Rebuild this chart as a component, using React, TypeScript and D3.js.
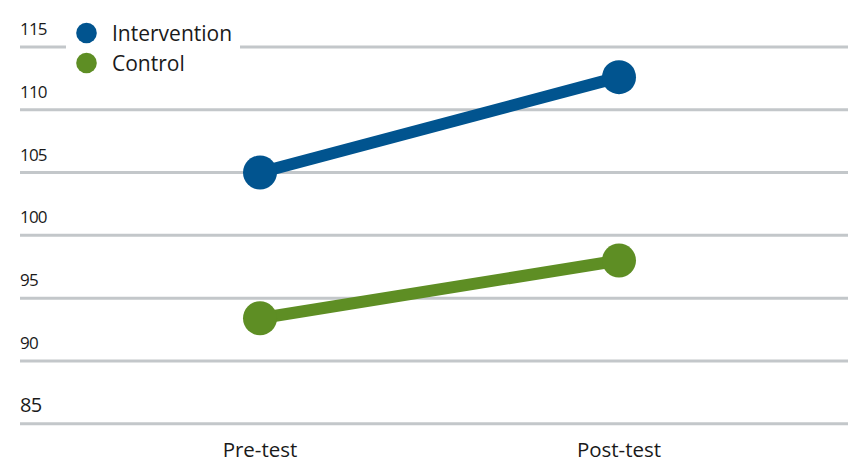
import React from "react";
import * as d3 from "d3";

const categories = ["Pre-test", "Post-test"];
const interventionValues = [105, 112.6];
const controlValues = [93.4, 98.0];
const yTicks = [85, 90, 95, 100, 105, 110, 115];
const seriesNames = ["Intervention", "Control"];

const W = 848;
const H = 462;
const BLUE = "#01548f";
const GREEN = "#5e8e24";
const GRID = "#c3c7ca";
const FONT = "'Open Sans', 'Noto Sans', sans-serif";

export default function App() {
  const y = d3.scaleLinear().domain([85, 115]).range([423.7, 47]);
  const x = d3.scalePoint<string>().domain(categories).range([260, 619]);
  const line = d3
    .line<number>()
    .x((_, i) => x(categories[i]) as number)
    .y((d) => y(d));
  const series = [
    { name: seriesNames[0], values: interventionValues, color: BLUE },
    { name: seriesNames[1], values: controlValues, color: GREEN },
  ];
  return (
    <svg
      width={W}
      height={H}
      style={{ position: "absolute", left: 0, top: 0, background: "#fff" }}
      fontFamily={FONT}
    >
      {yTicks.map((t) => (
        <g key={t}>
          <line x1={20} x2={W} y1={y(t)} y2={y(t)} stroke={GRID} strokeWidth={3} />
          <text
            x={20}
            y={y(t) - 12}
            fontSize={t === 85 ? 20 : 17}
            letterSpacing={-0.8}
            fill="#1a1a1a"
          >
            {t}
          </text>
        </g>
      ))}
      {/* legend */}
      <rect x={66} y={16} width={174} height={62} fill="#fff" />
      {series.map((s, i) => (
        <g key={s.name}>
          <circle cx={86.5} cy={33 + i * 30} r={10.3} fill={s.color} />
          <text x={112} y={40.5 + i * 30} fontSize={21} fill="#1a1a1a">
            {s.name}
          </text>
        </g>
      ))}
      {series.map((s) => (
        <g key={s.name + "-l"}>
          <path d={line(s.values) || ""} fill="none" stroke={s.color} strokeWidth={12} />
          {s.values.map((v, i) => (
            <circle key={i} cx={x(categories[i])} cy={y(v)} r={17} fill={s.color} />
          ))}
        </g>
      ))}
      {categories.map((c) => (
        <text
          key={c}
          x={x(c)}
          y={457}
          textAnchor="middle"
          fontSize={20.5}
          fill="#1a1a1a"
        >
          {c}
        </text>
      ))}
    </svg>
  );
}
